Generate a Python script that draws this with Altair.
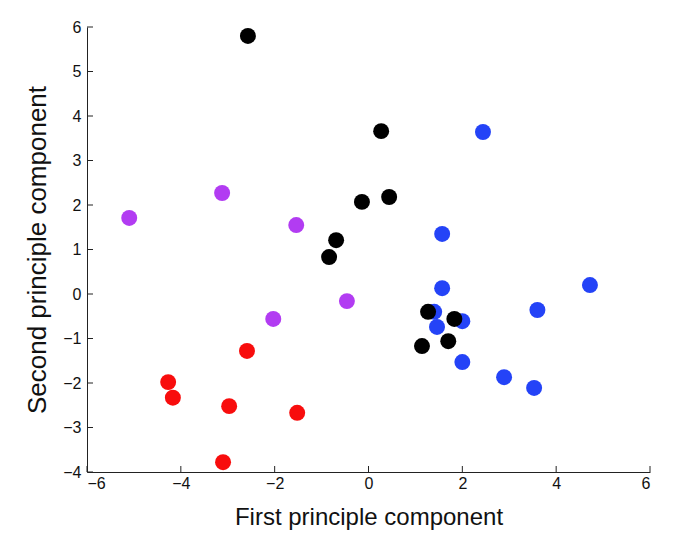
import altair as alt
import pandas as pd

black_x = [-2.57, 0.27, 0.44, -0.14, -0.69, -0.84, 1.27, 1.83, 1.14, 1.70]
black_y = [5.80, 3.66, 2.18, 2.07, 1.21, 0.83, -0.40, -0.56, -1.17, -1.06]

blue_x = [2.44, 1.57, 1.57, 4.72, 3.60, 1.40, 2.00, 1.46, 2.00, 2.89, 3.53]
blue_y = [3.64, 1.35, 0.13, 0.20, -0.36, -0.40, -0.61, -0.74, -1.53, -1.87, -2.11]

purple_x = [-5.10, -3.12, -1.54, -2.03, -0.46]
purple_y = [1.71, 2.27, 1.55, -0.56, -0.16]

red_x = [-2.59, -4.27, -4.17, -2.97, -1.52, -3.10]
red_y = [-1.28, -1.98, -2.33, -2.52, -2.67, -3.78]

x_ticks = [-6, -4, -2, 0, 2, 4, 6]
y_ticks = [-4, -3, -2, -1, 0, 1, 2, 3, 4, 5, 6]

groups = [
    ("blue", blue_x, blue_y, "#2443f7"),
    ("purple", purple_x, purple_y, "#b23cf2"),
    ("red", red_x, red_y, "#f80d0d"),
    ("black", black_x, black_y, "#000000"),
]
rows = []
for order, (name, xs, ys, col) in enumerate(groups):
    for x, y in zip(xs, ys):
        rows.append({"x": x, "y": y, "g": name, "col": col, "o": order})
df = pd.DataFrame(rows)

FONT = "Liberation Sans"
xs = alt.Scale(domain=[-6, 6], nice=False, zero=False)
ys = alt.Scale(domain=[-4, 6], nice=False, zero=False)

points = alt.Chart(df).mark_circle(size=255, opacity=1).encode(
    x=alt.X("x:Q", scale=xs, axis=alt.Axis(
        title="First principle component", values=x_ticks, tickSize=0,
        grid=False, domainColor="#222", labelFontSize=16, labelFont=FONT,
        labelColor="#111", labelPadding=3, titleFont=FONT, titleFontSize=24,
        titleFontWeight="normal", titleColor="#111", titlePadding=14)),
    y=alt.Y("y:Q", scale=ys, axis=alt.Axis(
        title="Second principle component", values=y_ticks, tickSize=0,
        grid=False, domainColor="#222", labelFontSize=16, labelFont=FONT,
        labelColor="#111", labelPadding=6, titleFont=FONT, titleFontSize=26,
        titleFontWeight="normal", titleColor="#111", titlePadding=12)),
    color=alt.Color("col:N", scale=None),
    order=alt.Order("o:Q"),
)

xt = alt.Chart(pd.DataFrame({"v": x_ticks})).mark_rule(color="#222", strokeWidth=1).encode(
    x=alt.X("v:Q", scale=xs), y=alt.value(445), y2=alt.value(439))
yt = alt.Chart(pd.DataFrame({"v": y_ticks})).mark_rule(color="#222", strokeWidth=1).encode(
    y=alt.Y("v:Q", scale=ys), x=alt.value(0), x2=alt.value(6))

chart = alt.layer(points, xt, yt).properties(
    width=563, height=445,
    autosize=alt.AutoSizeParams(type="none"),
    padding={"left": 79, "top": 19, "right": 20, "bottom": 70},
).configure_view(stroke=None).configure_axis(domainWidth=1)

chart.save("out.html", embed_options={"renderer": "svg", "actions": False})
